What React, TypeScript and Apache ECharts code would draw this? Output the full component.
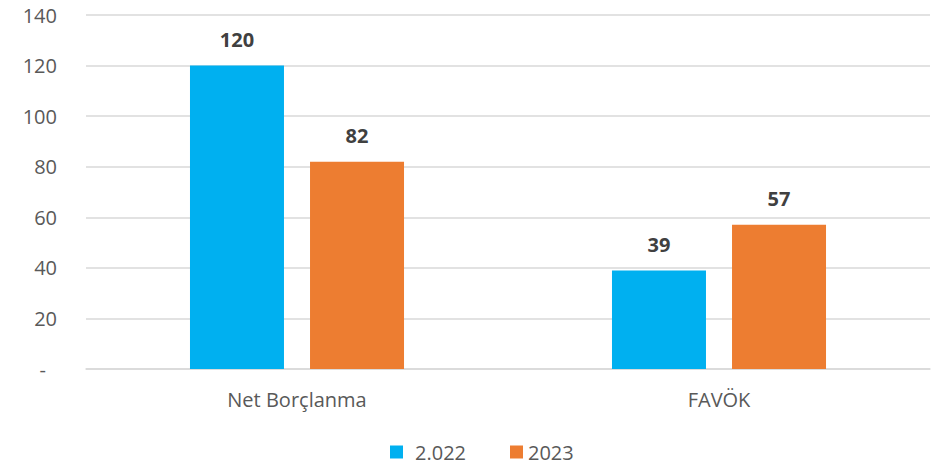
import React, { useEffect, useRef } from "react";
import * as echarts from "echarts";

const categories = ["Net Borçlanma", "FAVÖK"];
const series2022 = [120, 39];
const series2023 = [82, 57];
const seriesNames = ["2.022", "2023"];

export default function App() {
  const ref = useRef<HTMLDivElement>(null);
  useEffect(() => {
    if (!ref.current) return;
    const chart = echarts.init(ref.current, undefined, { renderer: "svg" });
    const font = "'Open Sans', 'Noto Sans', sans-serif";
    const label = {
      show: true,
      position: "top",
      distance: 16,
      color: "#404040",
      fontWeight: "bold",
      fontSize: 20,
      fontFamily: font,
    };
    chart.setOption({
      animation: false,
      textStyle: { fontFamily: font },
      grid: { left: 86, right: 5, top: 15, bottom: 97, containLabel: false },
      legend: {
        data: seriesNames,
        left: 390,
        top: 442,
        padding: 0,
        itemWidth: 13,
        itemHeight: 13,
        itemGap: 44,
        icon: "rect",
        formatter: (name: string) => (name === seriesNames[0] ? "{p|" + name + "}" : name),
        textStyle: {
          color: "#595959",
          fontSize: 20,
          lineHeight: 20,
          fontFamily: font,
          rich: {
            p: { color: "#595959", fontSize: 20, lineHeight: 20, fontFamily: font, padding: [0, 0, 0, 7] },
          },
        },
      },
      xAxis: {
        type: "category",
        data: categories,
        axisTick: { show: false },
        axisLine: { lineStyle: { color: "#D9D9D9", width: 1.5 } },
        axisLabel: { color: "#595959", fontSize: 20, margin: 20, fontFamily: font },
      },
      yAxis: {
        type: "value",
        min: 0,
        max: 140,
        interval: 20,
        axisLine: { show: false },
        axisTick: { show: false },
        splitLine: { lineStyle: { color: "#D9D9D9", width: 1.5 } },
        axisLabel: {
          color: "#595959",
          fontSize: 20,
          margin: 29,
          fontFamily: font,
          formatter: (v: number) => (v === 0 ? "{d|-}" : String(v)),
          rich: {
            d: { color: "#595959", fontSize: 20, fontFamily: font, padding: [0, 11, 0, 0] },
          },
        },
      },
      series: [
        {
          name: seriesNames[0],
          type: "bar",
          data: series2022,
          barWidth: 94,
          barGap: "27.7%",
          itemStyle: { color: "#00B0F0" },
          label,
        },
        {
          name: seriesNames[1],
          type: "bar",
          data: series2023,
          barWidth: 94,
          itemStyle: { color: "#ED7D31" },
          label,
        },
      ],
    });
    return () => chart.dispose();
  }, []);
  return (
    <div
      ref={ref}
      style={{ position: "absolute", left: 0, top: 0, width: 935, height: 466, background: "#fff" }}
    />
  );
}
